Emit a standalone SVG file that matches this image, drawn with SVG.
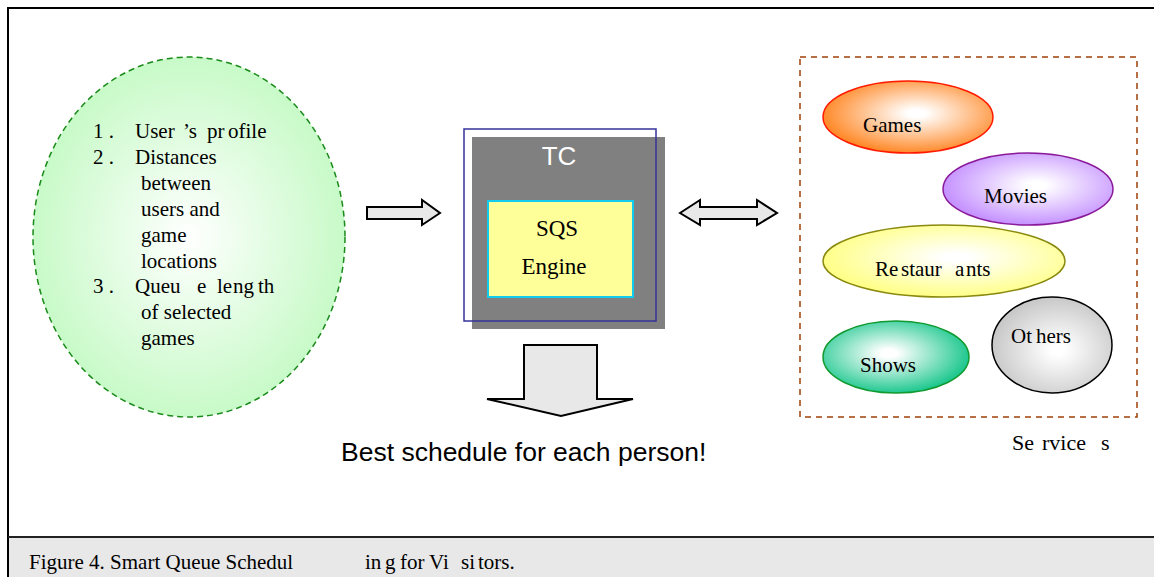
<svg xmlns="http://www.w3.org/2000/svg" width="1154" height="577" viewBox="0 0 1154 577">
<style>
.tr{font-family:"Liberation Serif","Times New Roman",serif;fill:#000}
.ar{font-family:"Liberation Sans",Arial,sans-serif}
.arrow{fill:#e8e8e8;stroke:#000;stroke-width:2;stroke-linejoin:miter}
</style>
<defs>
<radialGradient id="gGreen" cx="50%" cy="50%" r="50%"><stop offset="0" stop-color="#ffffff"/><stop offset="1" stop-color="#c8fac8"/></radialGradient>
<radialGradient id="gOrange" cx="55%" cy="45%" r="55%"><stop offset="0.1" stop-color="#ffffff"/><stop offset="1" stop-color="#ff8a2a"/></radialGradient>
<radialGradient id="gPurple" cx="55%" cy="45%" r="55%"><stop offset="0.1" stop-color="#ffffff"/><stop offset="1" stop-color="#c592ff"/></radialGradient>
<radialGradient id="gYellow" cx="55%" cy="45%" r="55%"><stop offset="0.1" stop-color="#ffffff"/><stop offset="1" stop-color="#ffff88"/></radialGradient>
<radialGradient id="gTeal" cx="45%" cy="45%" r="55%"><stop offset="0.1" stop-color="#ffffff"/><stop offset="1" stop-color="#20c890"/></radialGradient>
<radialGradient id="gGray" cx="55%" cy="55%" r="55%"><stop offset="0.1" stop-color="#ffffff"/><stop offset="1" stop-color="#c8c8c8"/></radialGradient>
</defs>
<rect x="0" y="0" width="1154" height="577" fill="#fff"/>
<rect x="8" y="537" width="1146" height="40" fill="#e8e8e8"/>
<line x1="8" y1="8" x2="1154" y2="8" stroke="#000" stroke-width="2"/>
<line x1="8" y1="7" x2="8" y2="577" stroke="#000" stroke-width="2"/>
<line x1="8" y1="537" x2="1154" y2="537" stroke="#222" stroke-width="2"/>

<g id="inputs">
<ellipse cx="189" cy="237" rx="156" ry="180" fill="url(#gGreen)" stroke="#1a8a1a" stroke-width="1.5" stroke-dasharray="6,4"/>
<g class="tr" font-size="21">
<text y="138"><tspan x="93">1 .</tspan><tspan x="135">User</tspan><tspan x="183">’s</tspan><tspan x="207">pr</tspan><tspan x="228">ofile</tspan></text>
<text y="164"><tspan x="93">2 .</tspan><tspan x="135">Distances</tspan></text>
<text x="141" y="190">between</text>
<text x="141" y="216">users and</text>
<text x="141" y="242">game</text>
<text x="141" y="268">locations</text>
<text y="293"><tspan x="93">3 .</tspan><tspan x="135">Queu</tspan><tspan x="197">e</tspan><tspan x="217">le</tspan><tspan x="233">ng</tspan><tspan x="258">th</tspan></text>
<text x="141" y="319">of selected</text>
<text x="141" y="345">games</text>
</g>
</g>

<g id="tc">
<rect x="472" y="137" width="193" height="192" fill="#808080"/>
<rect x="464" y="129" width="192" height="192" fill="none" stroke="#333399" stroke-width="1.5"/>
<text x="559" y="165" class="ar" font-size="26" fill="#fff" text-anchor="middle">TC</text>
</g>
<g id="sqs">
<rect x="488" y="201" width="145" height="96" fill="#ffff99" stroke="#11ccee" stroke-width="2"/>
<text x="557" y="236" class="tr" font-size="23" text-anchor="middle">SQS</text>
<text x="554" y="274" class="tr" font-size="23" text-anchor="middle">Engine</text>
</g>

<g id="connectors">
<path class="arrow" d="M367,207 H422 V200 L440,213 L422,225 V219 H367 Z"/>
<path class="arrow" d="M680,213 L700,200 V207 H757 V200 L777,213 L757,225 V219 H700 V225 Z"/>
<path class="arrow" d="M524,345 H597 V399 H633 L561,416 L487,399 H524 Z"/>
</g>

<g id="result">
<text x="341" y="461" class="ar" font-size="26.5" fill="#000">Best schedule for each person!</text>
</g>

<g id="services">
<rect x="800" y="57" width="337" height="360" fill="none" stroke="#a0400a" stroke-width="1.5" stroke-dasharray="6,5"/>
<text y="450" class="tr" font-size="22"><tspan x="1012">Se</tspan><tspan x="1042">rvice</tspan><tspan x="1101">s</tspan></text>
</g>
<g id="games">
<ellipse cx="908" cy="117" rx="85" ry="36" fill="url(#gOrange)" stroke="#ff1a00" stroke-width="1.5"/>
<text x="863" y="132" class="tr" font-size="21">Games</text>
</g>
<g id="movies">
<ellipse cx="1028" cy="189" rx="85" ry="36" fill="url(#gPurple)" stroke="#8a1a9a" stroke-width="1.5"/>
<text x="984" y="203" class="tr" font-size="21">Movies</text>
</g>
<g id="restaurants">
<ellipse cx="944" cy="261" rx="121" ry="36" fill="url(#gYellow)" stroke="#8a8a10" stroke-width="1.5"/>
<text y="276" class="tr" font-size="21"><tspan x="875">Re</tspan><tspan x="901">staur</tspan><tspan x="955">a</tspan><tspan x="966">nts</tspan></text>
</g>
<g id="shows">
<ellipse cx="896" cy="357" rx="73" ry="36" fill="url(#gTeal)" stroke="#109a30" stroke-width="1.5"/>
<text x="860" y="372" class="tr" font-size="21">Shows</text>
</g>
<g id="others">
<ellipse cx="1052" cy="345" rx="60" ry="48" fill="url(#gGray)" stroke="#000" stroke-width="1.5"/>
<text y="343" class="tr" font-size="21"><tspan x="1011">Ot</tspan><tspan x="1036">hers</tspan></text>
</g>

<g id="caption" class="tr" font-size="21">
<text x="29" y="569">Figure 4. Smart Queue Schedul</text>
<text y="569"><tspan x="365">in</tspan><tspan x="385">g</tspan><tspan x="400">for</tspan><tspan x="429">Vi</tspan><tspan x="461">si</tspan><tspan x="478">tors.</tspan></text>
</g>
</svg>
